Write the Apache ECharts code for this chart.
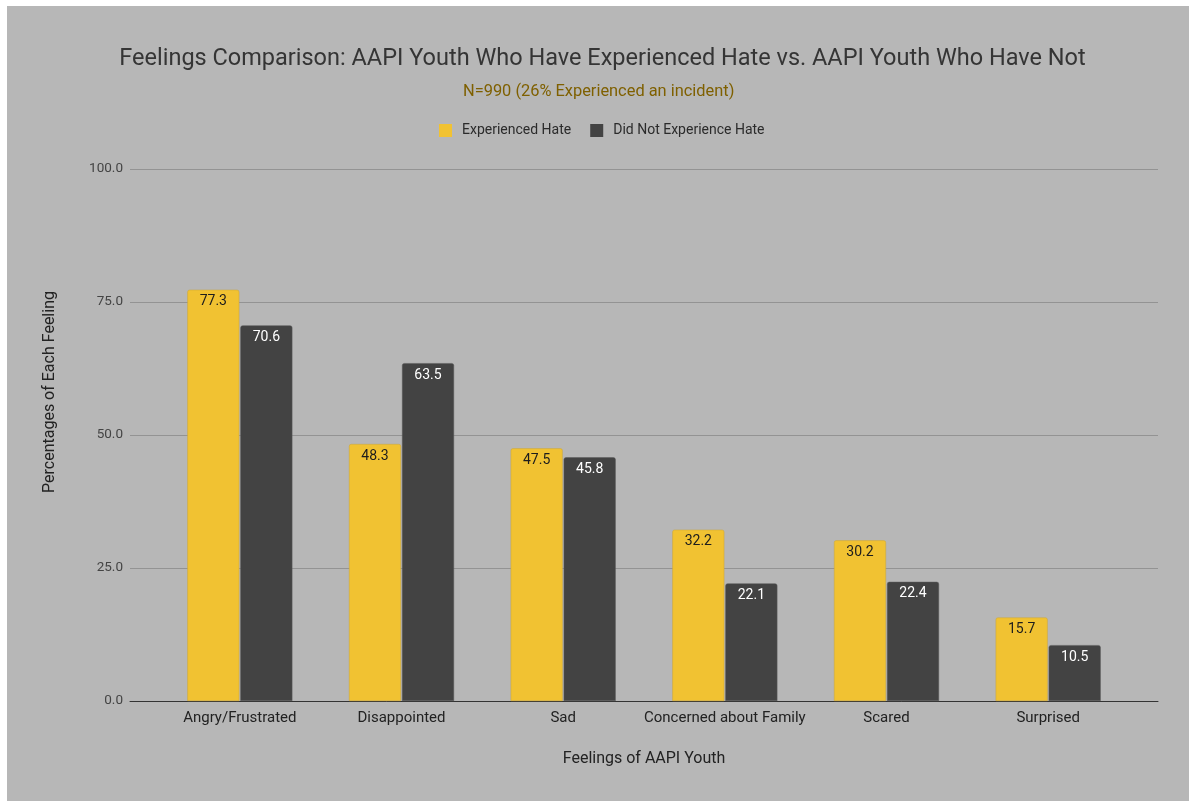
<!DOCTYPE html>
<html>
<head>
<meta charset="utf-8">
<script src="https://cdn.jsdelivr.net/npm/echarts@6/dist/echarts.min.js"></script>
<style>
  html, body { margin: 0; padding: 0; background: #ffffff; }
  #chart { position: absolute; left: 7px; top: 6px; width: 1182px; height: 795px; background: #b7b7b7; }
</style>
</head>
<body>
<div id="chart"></div>
<script>
// Survey results: share of AAPI youth reporting each feeling
const categories = ['Angry/Frustrated', 'Disappointed', 'Sad', 'Concerned about Family', 'Scared', 'Surprised'];
const experiencedHate = [77.3, 48.3, 47.5, 32.2, 30.2, 15.7];
const didNotExperienceHate = [70.6, 63.5, 45.8, 22.1, 22.4, 10.5];
const yTicks = [0, 25, 50, 75, 100];

const FONT = 'Roboto, "Noto Sans", sans-serif';
const chart = echarts.init(document.getElementById('chart'), null, { renderer: 'canvas' });

const plotTop = 163, plotBottom = 100;

chart.setOption({
  backgroundColor: '#b7b7b7',
  animation: false,
  textStyle: { fontFamily: FONT },
  title: [
    {
      text: 'Feelings Comparison: AAPI Youth Who Have Experienced Hate vs. AAPI Youth Who Have Not',
      left: 590.5, top: 36, textAlign: 'center',
      textStyle: { fontFamily: FONT, fontSize: 23.5, fontWeight: 'normal', color: '#353535' }
    },
    {
      text: 'N=990 (26% Experienced an incident)',
      left: 586.7, top: 73.3, textAlign: 'center',
      textStyle: { fontFamily: FONT, fontSize: 16.4, fontWeight: 'normal', color: '#7f6000' }
    }
  ],
  legend: {
    top: 112.5, left: 427,
    itemWidth: 13, itemHeight: 13, itemGap: 19,
    icon: 'rect',
    itemStyle: { borderWidth: 0 },
    textStyle: { fontFamily: FONT, fontSize: 14, color: '#2b2b2b', padding: [0, 0, 0, 5] },
    data: ['Experienced Hate', 'Did Not Experience Hate']
  },
  grid: [
    { left: 123, right: 31, top: plotTop, bottom: plotBottom },
    { left: 152, right: 60, top: plotTop, bottom: plotBottom }
  ],
  xAxis: [
    {
      gridIndex: 0, type: 'value', min: 0, max: 1,
      axisLine: { show: true, onZero: false, lineStyle: { color: '#333333', width: 1 } },
      axisTick: { show: false }, axisLabel: { show: false }, splitLine: { show: false }
    },
    {
      gridIndex: 1, type: 'category', data: categories,
      axisLine: { show: false }, axisTick: { show: false },
      axisLabel: { margin: 9.5, fontFamily: FONT, fontSize: 15, color: '#222222', interval: 0 },
      name: 'Feelings of AAPI Youth', nameLocation: 'middle', nameGap: 49.5,
      nameTextStyle: { fontFamily: FONT, fontSize: 16, color: '#222222' }
    }
  ],
  yAxis: [
    {
      gridIndex: 0, type: 'value', min: yTicks[0], max: yTicks[yTicks.length - 1], interval: 25,
      axisLine: { show: false }, axisTick: { show: false },
      axisLabel: { margin: 7, fontFamily: FONT, fontSize: 13.5, color: '#444444', formatter: v => v.toFixed(1) },
      splitLine: { lineStyle: { color: '#939393', width: 1 } }
    },
    {
      gridIndex: 1, type: 'value', min: 0, max: 100, show: false, splitLine: { show: false }
    }
  ],
  graphic: [
    {
      type: 'text', x: 43, y: 386, rotation: Math.PI / 2,
      style: {
        text: 'Percentages of Each Feeling', fill: '#222222',
        font: '16px ' + FONT, textAlign: 'center', textVerticalAlign: 'middle'
      }
    }
  ],
  series: [
    {
      name: 'Experienced Hate', type: 'bar', xAxisIndex: 1, yAxisIndex: 1,
      data: experiencedHate, barWidth: 52, barGap: '2%',
      itemStyle: { color: '#f1c232', borderRadius: [2, 2, 0, 0], borderColor: '#c9a43a', borderWidth: 0.5 },
      label: {
        show: true, position: 'insideTop', distance: 5, formatter: p => p.value.toFixed(1),
        fontFamily: FONT, fontSize: 14, color: '#1d1d1d'
      }
    },
    {
      name: 'Did Not Experience Hate', type: 'bar', xAxisIndex: 1, yAxisIndex: 1,
      data: didNotExperienceHate, barWidth: 52,
      itemStyle: { color: '#434343', borderRadius: [2, 2, 0, 0], borderColor: '#5a5a5a', borderWidth: 0.5 },
      label: {
        show: true, position: 'insideTop', distance: 5, formatter: p => p.value.toFixed(1),
        fontFamily: FONT, fontSize: 14, color: '#ffffff'
      }
    }
  ]
});
</script>
</body>
</html>
